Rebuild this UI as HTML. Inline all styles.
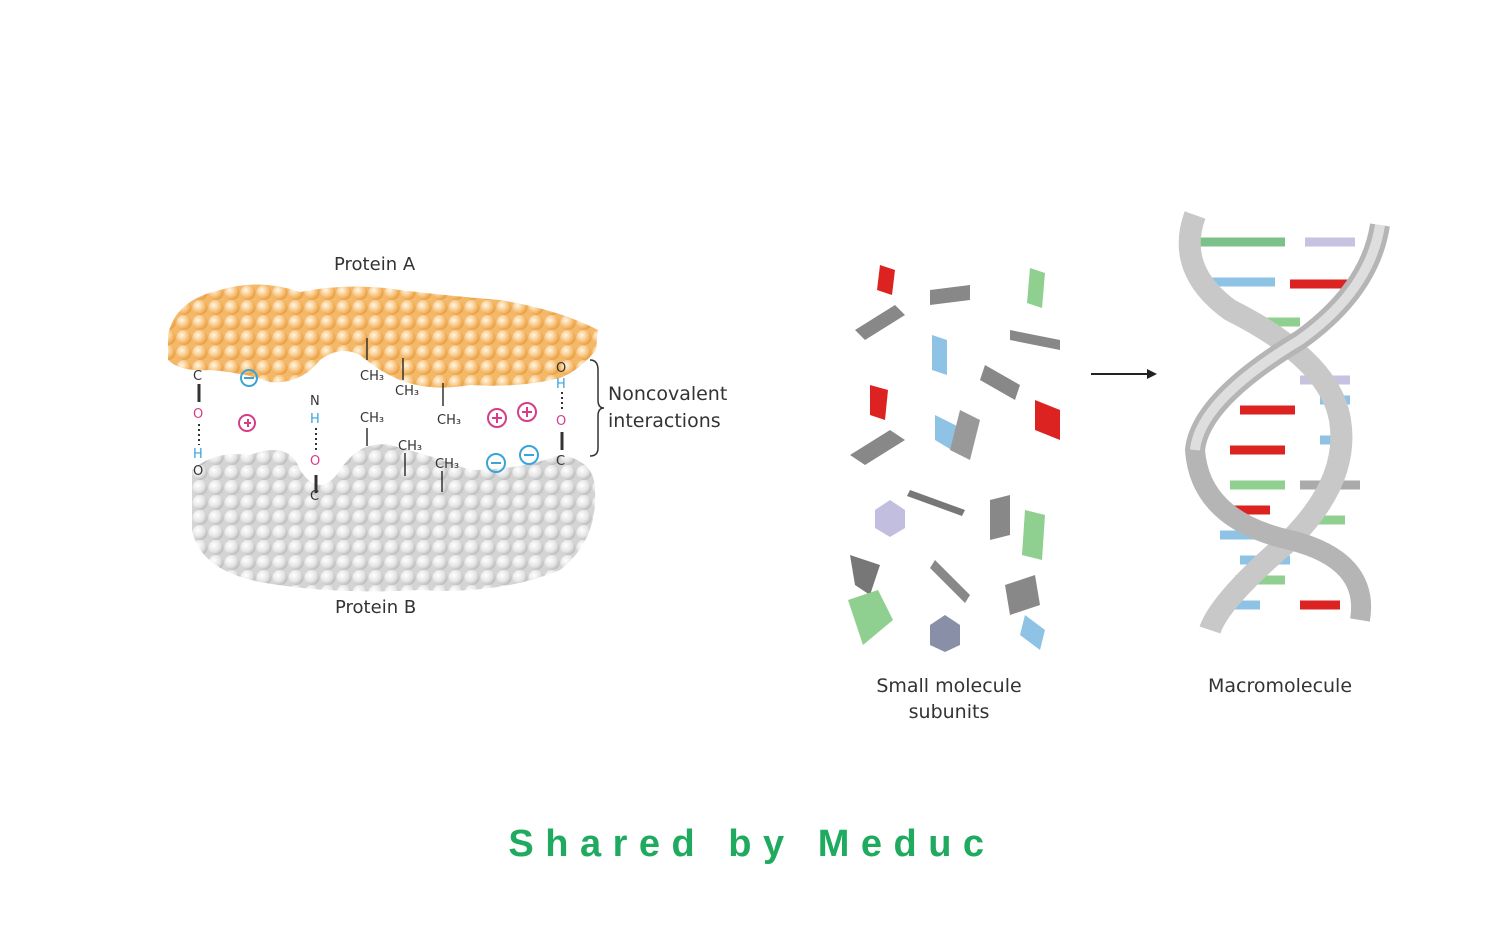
<!DOCTYPE html>
<html><head><meta charset="utf-8"><style>
html,body{margin:0;padding:0;background:#fff;width:1500px;height:942px;overflow:hidden}
svg{position:absolute;left:0;top:0}
.t{font-family:"DejaVu Sans",sans-serif;fill:#333}
</style></head><body>
<svg width="1500" height="942" viewBox="0 0 1500 942">
<defs>
<radialGradient id="ob" cx="0.35" cy="0.35" r="0.7"><stop offset="0" stop-color="#fff6e6"/><stop offset="0.6" stop-color="#f7c27a"/><stop offset="1" stop-color="#e89a3a"/></radialGradient>
<radialGradient id="gb" cx="0.35" cy="0.35" r="0.7"><stop offset="0" stop-color="#ffffff"/><stop offset="0.6" stop-color="#e4e4e4"/><stop offset="1" stop-color="#b8b8b8"/></radialGradient>
<pattern id="po" width="16" height="15" patternUnits="userSpaceOnUse"><rect width="16" height="15" fill="#f3b868"/><circle cx="8" cy="7.5" r="7.5" fill="url(#ob)"/></pattern>
<pattern id="pg" width="16" height="15" patternUnits="userSpaceOnUse"><rect width="16" height="15" fill="#d4d4d4"/><circle cx="8" cy="7.5" r="7.5" fill="url(#gb)"/></pattern>
</defs>
<path d="M168 335 Q175 300 220 290 Q260 278 300 292 Q350 282 400 290 Q450 296 500 300 Q560 310 598 330 L596 350 Q580 370 560 378 Q520 388 470 385 Q430 392 400 380 Q380 372 360 355 Q340 345 320 360 Q300 385 270 382 Q240 372 210 370 Q180 372 168 360 Z" fill="url(#po)"/>
<path d="M192 470 Q215 450 250 455 Q290 440 300 470 Q320 500 340 470 Q360 440 390 445 Q430 455 470 470 Q520 470 560 455 Q595 460 595 490 Q598 540 560 570 Q500 595 420 590 Q330 595 260 582 Q200 570 192 530 Z" fill="url(#pg)"/>
<text class="t" x="334" y="270" font-size="18">Protein A</text>
<text class="t" x="335" y="613" font-size="18">Protein B</text>
<text class="t" x="608" y="400" font-size="19">Noncovalent</text>
<text class="t" x="608" y="427" font-size="19">interactions</text>
<path d="M590 360 Q598 360 598 370 L598 400 Q598 408 604 408 Q598 408 598 416 L598 448 Q598 456 590 456" fill="none" stroke="#333" stroke-width="1.5"/>
<g stroke="#333" stroke-width="1.5">
<path d="M367 338 V360 M403 358 V380 M367 428 V446 M443 383 V406 M405 453 V476 M442 471 V492"/>
<path d="M199 384 V402 M316 475 V493 M562 432 V450" stroke-width="3"/>
</g>
<g stroke="#333" stroke-width="2" stroke-dasharray="2 3"><path d="M199 424 V445 M316 428 V450 M562 392 V412"/></g>
<g font-family="DejaVu Sans,sans-serif" font-size="13" fill="#333">
<text x="360" y="380">CH₃</text><text x="395" y="395">CH₃</text><text x="360" y="422">CH₃</text><text x="437" y="424">CH₃</text><text x="398" y="450">CH₃</text><text x="435" y="468">CH₃</text>
<text x="193" y="380">C</text><text x="193" y="475">O</text><text x="310" y="405">N</text><text x="310" y="500">C</text><text x="556" y="372">O</text><text x="556" y="465">C</text>
</g>
<g font-family="DejaVu Sans,sans-serif" font-size="13"><text x="193" y="418" fill="#d63c8a">O</text><text x="193" y="458" fill="#3aa3d8">H</text><text x="310" y="423" fill="#3aa3d8">H</text><text x="310" y="465" fill="#d63c8a">O</text><text x="556" y="388" fill="#3aa3d8">H</text><text x="556" y="425" fill="#d63c8a">O</text></g>
<g fill="none" stroke-width="2">
<circle cx="249" cy="378" r="8" stroke="#3aa3d8"/><circle cx="247" cy="423" r="8" stroke="#d63c8a"/>
<circle cx="497" cy="418" r="9" stroke="#d63c8a"/><circle cx="527" cy="412" r="9" stroke="#d63c8a"/>
<circle cx="496" cy="463" r="9" stroke="#3aa3d8"/><circle cx="529" cy="455" r="9" stroke="#3aa3d8"/>
</g>
<g stroke-width="2"><path d="M244 378h10M244 423h7M248 419v8" stroke="#d63c8a"/><path d="M244 378h10" stroke="#3aa3d8"/>
<path d="M492 418h10M497 413v10M522 412h10M527 407v10" stroke="#d63c8a"/><path d="M491 463h10M524 455h10" stroke="#3aa3d8"/></g>
<g>
<path d="M880 265 l15 5 l-3 25 l-15 -5z" fill="#d22"/><path d="M855 330 l40 -25 l10 10 l-40 25z" fill="#888"/>
<path d="M930 290 l40 -5 l0 15 l-40 5z" fill="#888"/><path d="M932 335 l15 5 l0 35 l-15 -5z" fill="#8ec3e6"/>
<path d="M1030 268 l15 5 l-3 35 l-15 -5z" fill="#8fcf8f"/><path d="M1010 330 l50 10 l0 10 l-50 -10z" fill="#888"/>
<path d="M870 385 l18 5 l-3 30 l-15 -5z" fill="#d22"/><path d="M850 455 l40 -25 l15 10 l-40 25z" fill="#888"/>
<path d="M935 415 l30 15 l-5 25 l-25 -15z" fill="#8ec3e6"/><path d="M960 410 l20 10 l-10 40 l-20 -10z" fill="#999"/>
<path d="M985 365 l35 20 l-5 15 l-35 -20z" fill="#888"/><path d="M1035 400 l25 10 l0 30 l-25 -10z" fill="#d22"/>
<polygon points="875,510 890,500 905,510 905,528 890,537 875,528" fill="#c2bedf"/><path d="M910 490 l55 20 l-3 6 l-55 -20z" fill="#777"/>
<path d="M990 500 l20 -5 l0 40 l-20 5z" fill="#888"/><path d="M1025 510 l20 5 l-3 45 l-20 -5z" fill="#8fcf8f"/>
<path d="M850 555 l30 10 l-10 30 l-15 -10z" fill="#777"/><path d="M848 600 l30 -10 l15 30 l-30 25z" fill="#8fcf8f"/>
<path d="M935 560 l35 35 l-5 8 l-35 -35z" fill="#888"/><polygon points="930,625 945,615 960,625 960,645 945,652 930,645" fill="#8a8fa8"/>
<path d="M1005 585 l30 -10 l5 30 l-30 10z" fill="#888"/><path d="M1025 615 l20 15 l-5 20 l-20 -15z" fill="#8ec3e6"/>
</g>
<path d="M1091 374 L1150 374" stroke="#222" stroke-width="2"/><path d="M1157 374 l-10 -5 v10z" fill="#222"/>
<g>
<g stroke-width="9">
<path d="M1200 242 h85" stroke="#7cc08a"/><path d="M1305 242 h50" stroke="#c6c2e0"/>
<path d="M1200 282 h75" stroke="#8ec3e6"/><path d="M1290 284 h60" stroke="#d22"/>
<path d="M1250 322 h50" stroke="#8fcf8f"/>
<path d="M1300 380 h50" stroke="#c6c2e0"/><path d="M1240 410 h55" stroke="#d22"/><path d="M1320 400 h30" stroke="#8ec3e6"/>
<path d="M1230 450 h55" stroke="#d22"/><path d="M1320 440 h30" stroke="#8ec3e6"/>
<path d="M1230 485 h55" stroke="#8fcf8f"/><path d="M1300 485 h60" stroke="#aaa"/>
<path d="M1225 510 h45" stroke="#d22"/><path d="M1300 520 h45" stroke="#8fcf8f"/>
<path d="M1220 535 h50" stroke="#8ec3e6"/><path d="M1240 560 h50" stroke="#8ec3e6"/>
<path d="M1235 580 h50" stroke="#8fcf8f"/><path d="M1220 605 h40" stroke="#8ec3e6"/><path d="M1300 605 h40" stroke="#d22"/>
</g>
<path d="M1195 215 Q1175 270 1230 310 Q1330 360 1340 420 Q1350 480 1290 540 Q1220 600 1210 630" fill="none" stroke="#c8c8c8" stroke-width="22"/>
<path d="M1380 225 Q1370 290 1300 340 Q1200 400 1195 450 Q1200 520 1290 540 Q1370 560 1360 620" fill="none" stroke="#b5b5b5" stroke-width="20"/>
<path d="M1380 225 Q1370 290 1300 340 Q1200 400 1195 450" fill="none" stroke="#dedede" stroke-width="10"/>
</g>
<text class="t" x="949" y="692" font-size="19" text-anchor="middle">Small molecule</text>
<text class="t" x="949" y="718" font-size="19" text-anchor="middle">subunits</text>
<text class="t" x="1280" y="692" font-size="19" text-anchor="middle">Macromolecule</text>
<text x="752" y="856" font-family="Liberation Sans,sans-serif" font-weight="bold" font-size="38" fill="#1faa5f" text-anchor="middle" letter-spacing="11.5">Shared by Meduc</text>
</svg>
</body></html>
